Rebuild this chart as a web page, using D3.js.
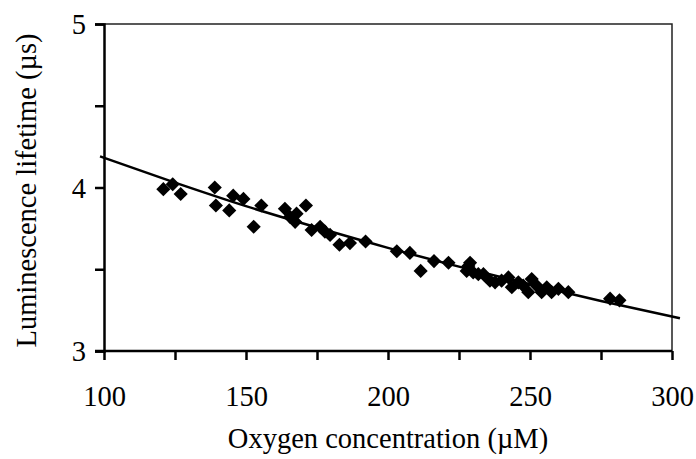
<!DOCTYPE html>
<html>
<head>
<meta charset="utf-8">
<script src="https://cdn.jsdelivr.net/npm/d3@7"></script>
<style>
  body { margin: 0; background: #fff; }
  text { font-family: "Liberation Serif", "Times New Roman", serif; fill: #000; }
</style>
</head>
<body>
<svg width="696" height="459"></svg>
<script>
// measured points: oxygen (µM) vs lifetime (µs)
const oxygen = [120.9, 124.2, 127.0, 139.0, 139.4, 144.1, 145.5, 149.1, 152.7, 155.4,
  163.7, 165.5, 167.3, 167.8, 171.1, 173.1, 176.1, 177.8, 179.6, 182.9,
  186.6, 192.1, 203.1, 207.7, 211.5, 216.2, 221.3, 227.7, 228.3, 228.9,
  230.0, 231.8, 233.6, 235.9, 237.7, 240.0, 242.4, 243.6, 245.9, 247.6,
  249.4, 250.6, 252.3, 254.1, 255.9, 257.6, 260.0, 263.5, 278.2, 281.5];
const lifetime = [3.99, 4.02, 3.96, 4.00, 3.89, 3.86, 3.95, 3.93, 3.76, 3.89,
  3.87, 3.82, 3.79, 3.84, 3.89, 3.74, 3.76, 3.73, 3.71, 3.65,
  3.66, 3.67, 3.61, 3.60, 3.49, 3.55, 3.54, 3.49, 3.52, 3.54,
  3.48, 3.47, 3.47, 3.43, 3.42, 3.43, 3.45, 3.39, 3.42, 3.40,
  3.36, 3.44, 3.40, 3.36, 3.39, 3.36, 3.38, 3.36, 3.32, 3.31];

// fitted curve
const fitX = [98.6, 125, 150, 175, 200, 225, 250, 275, 302.8];
const fitY = [4.19, 4.03, 3.886, 3.755, 3.631, 3.516, 3.408, 3.306, 3.20];

const xTicks = [100, 125, 150, 175, 200, 225, 250, 275, 300];
const xLabels = [100, 150, 200, 250, 300];
const yTicks = [3, 3.5, 4, 4.5, 5];
const yLabels = [3, 4, 5];

const svg = d3.select("svg");
const mLeft = 104, mRight = 672, mTop = 24, mBottom = 351;
const fs = 28.5;

const x = d3.scaleLinear().domain([100, 300]).range([mLeft, mRight]);
const y = d3.scaleLinear().domain([3, 5]).range([mBottom, mTop]);

// border top/right
svg.append("path")
  .attr("d", `M${mLeft},${mTop}H${mRight}V${mBottom}`)
  .attr("fill", "none")
  .attr("stroke", "#222")
  .attr("stroke-width", 1.5);

// axes
const xAxis = d3.axisBottom(x).tickValues(xTicks).tickSize(9)
  .tickFormat(d => xLabels.includes(d) ? d : "");
const gx = svg.append("g").attr("transform", `translate(0,${mBottom})`).call(xAxis);

const yAxis = d3.axisLeft(y).tickValues(yTicks).tickSize(9)
  .tickFormat(d => yLabels.includes(d) ? d : "");
const gy = svg.append("g").attr("transform", `translate(${mLeft},0)`).call(yAxis);

[gx, gy].forEach(g => {
  g.select(".domain").attr("stroke", "#000").attr("stroke-width", 2.5);
  g.selectAll(".tick line").attr("stroke", "#000").attr("stroke-width", 2.5);
  g.selectAll("text").attr("font-size", fs)
    .attr("font-family", '"Liberation Serif", serif').attr("fill", "#000");
});
gx.select(".domain").attr("d", `M${mLeft - 9},0H${mRight}`);
gx.selectAll("text").attr("dy", null).attr("y", 55);
gy.selectAll("text").attr("x", -18).attr("dy", "0.34em");

// fit line
const pts = fitX.map((v, i) => [v, fitY[i]]);
svg.append("path")
  .datum(pts)
  .attr("d", d3.line().x(d => x(d[0])).y(d => y(d[1])).curve(d3.curveMonotoneX))
  .attr("fill", "none")
  .attr("stroke", "#000")
  .attr("stroke-width", 2.5);

// markers (diamonds)
const diamond = d3.symbol(d3.symbolSquare, 100);
svg.selectAll(".pt")
  .data(oxygen.map((v, i) => [v, lifetime[i]]))
  .enter()
  .append("path")
  .attr("class", "pt")
  .attr("d", diamond)
  .attr("transform", d => `translate(${x(d[0])},${y(d[1])}) rotate(45)`)
  .attr("fill", "#000");

// axis titles
svg.append("text")
  .attr("x", (mLeft + mRight) / 2)
  .attr("y", 448)
  .attr("text-anchor", "middle")
  .attr("font-size", fs)
  .text("Oxygen concentration (µM)");

svg.append("text")
  .attr("transform", `translate(36,${(mTop + mBottom) / 2 + 3}) rotate(-90)`)
  .attr("text-anchor", "middle")
  .attr("font-size", fs)
  .text("Luminescence lifetime (µs)");
</script>
</body>
</html>
